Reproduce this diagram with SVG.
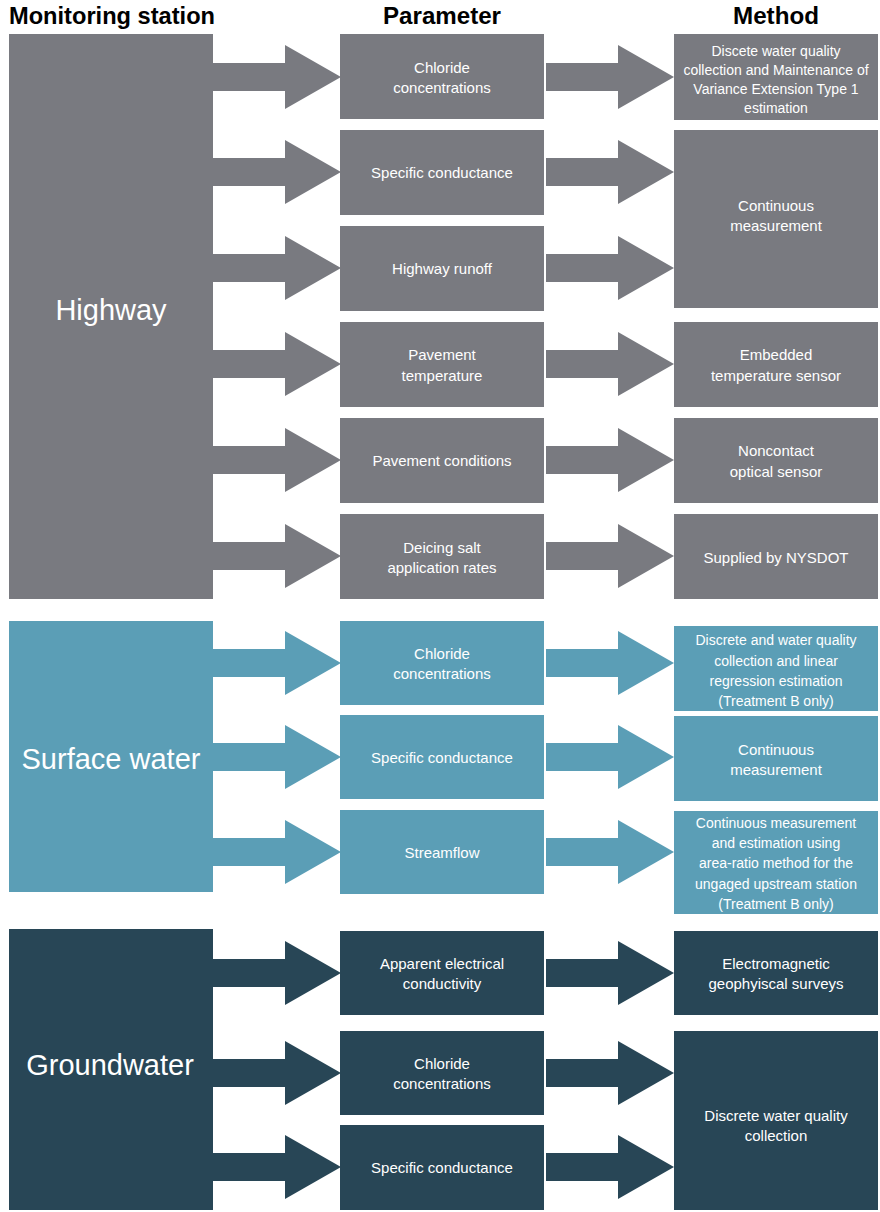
<svg xmlns="http://www.w3.org/2000/svg" width="880" height="1212" viewBox="0 0 880 1212">
<style>
text{font-family:"Liberation Sans",Arial,sans-serif;fill:#fff;text-anchor:middle;font-size:15px}
.h{fill:#000;font-weight:bold;font-size:24px}
.big{font-size:29px}
.s{font-size:14px}
.g{fill:#797a80}.t{fill:#5b9eb6}.d{fill:#284656}
</style>
<defs>
<path id="ar" d="M0,-14H72V-32L128,0L72,32V14H0Z"/>
</defs>
<text class="h" x="112" y="24" textLength="206" lengthAdjust="spacingAndGlyphs">Monitoring station</text>
<text class="h" x="442" y="24" textLength="118" lengthAdjust="spacingAndGlyphs">Parameter</text>
<text class="h" x="776" y="24" textLength="86" lengthAdjust="spacingAndGlyphs">Method</text>
<g id="connectors">
<use href="#ar" class="g" x="213" y="77"/><use href="#ar" class="g" x="213" y="172"/><use href="#ar" class="g" x="213" y="268"/><use href="#ar" class="g" x="213" y="364"/><use href="#ar" class="g" x="213" y="460"/><use href="#ar" class="g" x="213" y="556"/>
<use href="#ar" class="g" x="546" y="77"/><use href="#ar" class="g" x="546" y="172"/><use href="#ar" class="g" x="546" y="268"/><use href="#ar" class="g" x="546" y="364"/><use href="#ar" class="g" x="546" y="460"/><use href="#ar" class="g" x="546" y="556"/>
<use href="#ar" class="t" x="213" y="663"/><use href="#ar" class="t" x="213" y="757"/><use href="#ar" class="t" x="213" y="852"/>
<use href="#ar" class="t" x="546" y="663"/><use href="#ar" class="t" x="546" y="757"/><use href="#ar" class="t" x="546" y="852"/>
<use href="#ar" class="d" x="213" y="973"/><use href="#ar" class="d" x="213" y="1073"/><use href="#ar" class="d" x="213" y="1167"/>
<use href="#ar" class="d" x="546" y="973"/><use href="#ar" class="d" x="546" y="1073"/><use href="#ar" class="d" x="546" y="1167"/>
</g>
<g id="highway"><rect class="g" x="9" y="34" width="204" height="565"/><text class="big" x="111" y="320">Highway</text></g>
<g id="p1"><rect class="g" x="340" y="34" width="204" height="85"/><text x="442" y="73">Chloride</text><text x="442" y="93">concentrations</text></g>
<g id="p2"><rect class="g" x="340" y="130" width="204" height="85"/><text x="442" y="178">Specific conductance</text></g>
<g id="p3"><rect class="g" x="340" y="226" width="204" height="85"/><text x="442" y="274">Highway runoff</text></g>
<g id="p4"><rect class="g" x="340" y="322" width="204" height="85"/><text x="442" y="360">Pavement</text><text x="442" y="381">temperature</text></g>
<g id="p5"><rect class="g" x="340" y="418" width="204" height="85"/><text x="442" y="466">Pavement conditions</text></g>
<g id="p6"><rect class="g" x="340" y="514" width="204" height="85"/><text x="442" y="553">Deicing salt</text><text x="442" y="573">application rates</text></g>
<g id="m1"><rect class="g" x="674" y="34" width="204" height="86"/><text class="s" x="776" y="56">Discete water quality</text><text class="s" x="776" y="75">collection and Maintenance of</text><text class="s" x="776" y="94">Variance Extension Type 1</text><text class="s" x="776" y="113">estimation</text></g>
<g id="m2"><rect class="g" x="674" y="130" width="204" height="178"/><text x="776" y="211">Continuous</text><text x="776" y="231">measurement</text></g>
<g id="m3"><rect class="g" x="674" y="322" width="204" height="85"/><text x="776" y="360">Embedded</text><text x="776" y="381">temperature sensor</text></g>
<g id="m4"><rect class="g" x="674" y="418" width="204" height="85"/><text x="776" y="456">Noncontact</text><text x="776" y="477">optical sensor</text></g>
<g id="m5"><rect class="g" x="674" y="514" width="204" height="85"/><text x="776" y="563">Supplied by NYSDOT</text></g>
<g id="surface"><rect class="t" x="9" y="621" width="204" height="271"/><text class="big" x="111" y="769">Surface water</text></g>
<g id="s1"><rect class="t" x="340" y="621" width="204" height="84"/><text x="442" y="659">Chloride</text><text x="442" y="679">concentrations</text></g>
<g id="s2"><rect class="t" x="340" y="715" width="204" height="84"/><text x="442" y="763">Specific conductance</text></g>
<g id="s3"><rect class="t" x="340" y="810" width="204" height="84"/><text x="442" y="858">Streamflow</text></g>
<g id="sm1"><rect class="t" x="674" y="626" width="204" height="85"/><text class="s" x="776" y="645">Discrete and water quality</text><text class="s" x="776" y="666">collection and linear</text><text class="s" x="776" y="686">regression estimation</text><text class="s" x="776" y="706">(Treatment B only)</text></g>
<g id="sm2"><rect class="t" x="674" y="716" width="204" height="85"/><text x="776" y="755">Continuous</text><text x="776" y="775">measurement</text></g>
<g id="sm3"><rect class="t" x="674" y="811" width="204" height="103"/><text class="s" x="776" y="828">Continuous measurement</text><text class="s" x="776" y="848">and estimation using</text><text class="s" x="776" y="868">area-ratio method for the</text><text class="s" x="776" y="889">ungaged upstream station</text><text class="s" x="776" y="909">(Treatment B only)</text></g>
<g id="ground"><rect class="d" x="9" y="929" width="204" height="281"/><text class="big" x="110" y="1075">Groundwater</text></g>
<g id="g1"><rect class="d" x="340" y="931" width="204" height="84"/><text x="442" y="969">Apparent electrical</text><text x="442" y="989">conductivity</text></g>
<g id="g2"><rect class="d" x="340" y="1031" width="204" height="84"/><text x="442" y="1069">Chloride</text><text x="442" y="1089">concentrations</text></g>
<g id="g3"><rect class="d" x="340" y="1125" width="204" height="85"/><text x="442" y="1173">Specific conductance</text></g>
<g id="gm1"><rect class="d" x="674" y="931" width="204" height="84"/><text x="776" y="969">Electromagnetic</text><text x="776" y="989">geophyiscal surveys</text></g>
<g id="gm2"><rect class="d" x="674" y="1031" width="204" height="179"/><text x="776" y="1121">Discrete water quality</text><text x="776" y="1141">collection</text></g>
</svg>
